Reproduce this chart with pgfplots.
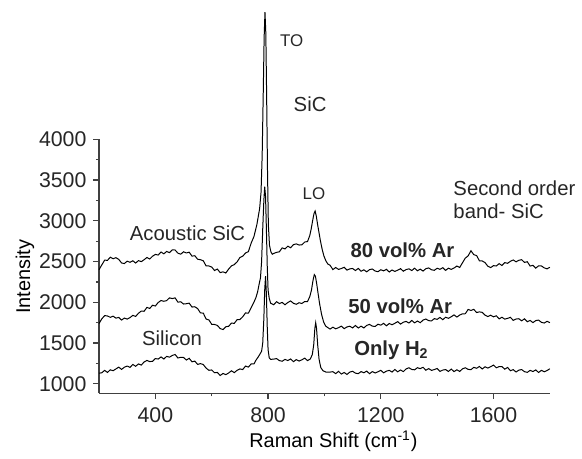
\documentclass[border=0pt]{standalone}
\usepackage{fontspec}
\setmainfont{Liberation Sans}
\usepackage{pgfplots}
\pgfplotsset{compat=1.18}

% Raman spectra (x in cm^-1, y intensity)
\pgfplotstableread{
x y
200 2400
210 2460
220 2518
230 2515
240 2554
250 2535
260 2548
270 2527
280 2483
290 2476
300 2505
310 2491
320 2510
330 2482
340 2512
350 2499
360 2523
370 2550
380 2532
390 2566
400 2588
410 2580
420 2618
430 2595
440 2624
450 2610
460 2643
470 2642
480 2603
490 2591
500 2620
510 2606
520 2615
530 2567
540 2572
550 2529
560 2523
570 2510
580 2447
590 2446
600 2433
610 2390
620 2408
630 2365
640 2374
650 2360
660 2408
670 2447
680 2463
690 2496
700 2550
710 2566
720 2605
730 2622
740 2727
750 2809
755 2880
760 2950
765 3050
770 3150
775 3350
779 3800
783 4600
786 5250
789 5560
792 5300
795 4500
798 3600
801 2950
805 2700
810 2620
815 2590
820 2600
830 2613
840 2620
850 2668
860 2655
870 2689
880 2670
890 2708
900 2717
910 2703
920 2706
930 2740
940 2746
948 2820
953 2900
958 3000
963 3090
967 3120
971 3060
976 2950
981 2850
986 2750
992 2650
998 2570
1005 2510
1012 2470
1020 2455
1030 2402
1040 2427
1050 2404
1060 2415
1070 2430
1080 2395
1090 2411
1100 2415
1110 2390
1120 2416
1130 2381
1140 2399
1150 2374
1160 2401
1170 2409
1180 2384
1190 2376
1200 2400
1210 2386
1220 2405
1230 2372
1240 2397
1250 2379
1260 2395
1270 2413
1280 2382
1290 2402
1300 2411
1310 2390
1320 2419
1330 2387
1340 2407
1350 2384
1360 2413
1370 2422
1380 2399
1390 2393
1400 2418
1410 2405
1420 2425
1430 2392
1440 2419
1450 2404
1460 2421
1470 2445
1480 2427
1490 2486
1500 2543
1510 2570
1520 2633
1530 2585
1540 2574
1550 2510
1560 2508
1570 2487
1580 2443
1590 2426
1600 2450
1610 2446
1620 2475
1630 2452
1640 2487
1650 2479
1660 2503
1670 2520
1680 2497
1690 2516
1700 2523
1710 2490
1720 2498
1730 2445
1740 2454
1750 2420
1760 2448
1770 2447
1780 2423
1790 2411
1800 2430
}\arhigh

\pgfplotstableread{
x y
200 1740
210 1798
220 1837
230 1833
240 1816
250 1830
260 1806
270 1815
280 1782
290 1807
300 1794
310 1813
320 1840
330 1827
340 1866
350 1893
360 1890
370 1938
380 1925
390 1964
400 1955
410 1998
420 2022
430 2013
440 2021
450 2055
460 2046
470 2055
480 2002
490 2007
500 1979
510 1983
520 1990
530 1942
540 1946
550 1923
560 1870
570 1868
580 1795
590 1784
600 1730
610 1728
620 1717
630 1678
640 1666
650 1700
660 1706
670 1745
680 1742
690 1787
700 1789
710 1823
720 1870
730 1867
740 1936
750 2003
757 2060
763 2130
768 2220
773 2300
777 2500
781 2900
785 3250
788 3420
791 3300
794 2900
797 2450
800 2150
804 2050
809 1990
820 1970
830 2008
840 1985
850 1999
860 1970
870 1998
880 2017
890 1988
900 1976
910 1995
920 1986
930 2010
940 2010
948 2070
954 2150
959 2260
964 2340
968 2320
972 2240
977 2120
983 1980
990 1850
997 1760
1004 1710
1012 1690
1020 1672
1030 1695
1040 1675
1050 1689
1060 1708
1070 1677
1080 1698
1090 1707
1100 1686
1110 1716
1120 1685
1130 1707
1140 1686
1150 1717
1160 1729
1170 1708
1180 1704
1190 1731
1200 1720
1210 1742
1220 1712
1230 1740
1240 1725
1250 1743
1260 1763
1270 1733
1280 1756
1290 1766
1300 1746
1310 1778
1320 1748
1330 1771
1340 1750
1350 1782
1360 1795
1370 1775
1380 1772
1390 1800
1400 1791
1410 1815
1420 1787
1430 1817
1440 1804
1450 1823
1460 1846
1470 1819
1480 1844
1490 1859
1500 1860
1510 1913
1520 1900
1530 1914
1540 1875
1550 1883
1560 1877
1570 1843
1580 1826
1590 1842
1600 1822
1610 1835
1620 1797
1630 1817
1640 1794
1650 1803
1660 1816
1670 1779
1680 1795
1690 1799
1700 1773
1710 1798
1720 1762
1730 1778
1740 1751
1750 1776
1760 1782
1770 1755
1780 1746
1790 1767
1800 1751
}\armid

\pgfplotstableread{
x y
200 1130
210 1136
220 1165
230 1140
240 1172
250 1161
260 1183
270 1205
280 1177
290 1204
300 1218
310 1202
320 1238
330 1215
340 1244
350 1230
360 1268
370 1287
380 1273
390 1276
400 1310
410 1304
420 1330
430 1304
440 1337
450 1327
460 1348
470 1360
480 1317
490 1326
500 1323
510 1292
520 1313
530 1270
540 1279
550 1238
560 1248
570 1237
580 1193
590 1166
600 1170
610 1136
620 1140
630 1102
640 1127
650 1113
660 1133
670 1160
680 1137
690 1166
700 1183
710 1175
720 1218
730 1205
740 1244
750 1245
757 1290
765 1330
772 1370
777 1400
781 1500
785 1800
788 2150
791 2320
794 2100
797 1700
800 1420
804 1320
809 1300
820 1303
830 1310
840 1285
850 1277
860 1300
870 1286
880 1305
890 1272
900 1297
910 1279
920 1295
930 1315
940 1285
950 1305
957 1360
962 1480
966 1680
969 1750
972 1680
976 1480
981 1300
987 1200
995 1160
1005 1145
1020 1144
1030 1149
1040 1125
1050 1153
1060 1120
1070 1139
1080 1115
1090 1144
1100 1154
1110 1131
1120 1125
1130 1150
1140 1136
1150 1156
1160 1124
1170 1150
1180 1133
1190 1148
1200 1166
1210 1135
1220 1156
1230 1165
1240 1145
1250 1176
1260 1147
1270 1170
1280 1150
1290 1183
1300 1197
1310 1176
1320 1172
1330 1198
1340 1186
1350 1203
1360 1167
1370 1187
1380 1165
1390 1175
1400 1188
1410 1152
1420 1169
1430 1175
1440 1152
1450 1181
1460 1150
1470 1172
1480 1152
1490 1184
1500 1197
1510 1177
1520 1174
1530 1202
1540 1191
1550 1213
1560 1182
1570 1209
1580 1193
1590 1210
1600 1230
1610 1197
1620 1211
1630 1211
1640 1180
1650 1201
1660 1161
1670 1174
1680 1145
1690 1168
1700 1175
1710 1149
1720 1141
1730 1165
1740 1151
1750 1171
1760 1139
1770 1165
1780 1148
1790 1163
1800 1185
}\honly

\begin{document}
\begin{tikzpicture}
\begin{axis}[
    scale only axis,
    width=226.5pt, height=127.5pt,
    xmin=200, xmax=1800,
    ymin=886, ymax=4000,
    clip=false,
    axis x line=bottom, axis y line=left,
    axis line style={-, black!75, line width=0.6pt},
    tick align=outside,
    tick style={black!75, line width=0.6pt},
    major tick length=2.8pt, minor tick length=1.6pt,
    xtick={400,800,1200,1600}, minor x tick num=1,
    ytick={1000,1500,2000,2500,3000,3500,4000}, minor y tick num=1,
    /pgf/number format/1000 sep={},
    /pgf/number format/assume math mode=true,
    ticklabel style={font=\fontsize{10.7}{12}\selectfont, text=black!85},
    xticklabel style={yshift=-1pt},
    xlabel={Raman Shift (cm\textsuperscript{-1})},
    ylabel={Intensity},
    label style={font=\fontsize{10.2}{12}\selectfont, text=black!85},
    every axis x label/.style={at={(axis description cs:0.52,-0.19)}, anchor=center},
    every axis y label/.style={at={(axis description cs:-0.164,0.459)}, anchor=center, rotate=90},
]
\addplot[black, no marks, line width=0.5pt] table[x=x, y=y] {\arhigh};
\addplot[black, no marks, line width=0.5pt] table[x=x, y=y] {\armid};
\addplot[black, no marks, line width=0.5pt] table[x=x, y=y] {\honly};

\begin{scope}[every node/.style={text=black!85, font=\fontsize{10.2}{12}\selectfont}]
\node[anchor=west, font=\fontsize{8.5}{10}\selectfont] at (axis cs:818,5212) {TO};
\node[anchor=west] at (axis cs:866,4428) {SiC};
\node[font=\fontsize{8.5}{10}\selectfont] at (axis cs:963,3337) {LO};
\node[anchor=west] at (axis cs:1433,3396) {Second order};
\node[anchor=west] at (axis cs:1433,3114) {band- SiC};
\node at (axis cs:514,2847) {Acoustic SiC};
\node at (axis cs:459,1560) {Silicon};
\node[font=\bfseries\fontsize{10.2}{12}\selectfont] at (axis cs:1277,2635) {80 vol\% Ar};
\node[font=\bfseries\fontsize{10.2}{12}\selectfont] at (axis cs:1269,1948) {50 vol\% Ar};
\node[anchor=base west, font=\bfseries\fontsize{10.2}{12}\selectfont] at (axis cs:1081,1348) {Only H\textsubscript{2}};
\end{scope}
\end{axis}
\path[use as bounding box] (-49.75pt,-30pt) rectangle (241.25pt,197.5pt);
\end{tikzpicture}
\end{document}
